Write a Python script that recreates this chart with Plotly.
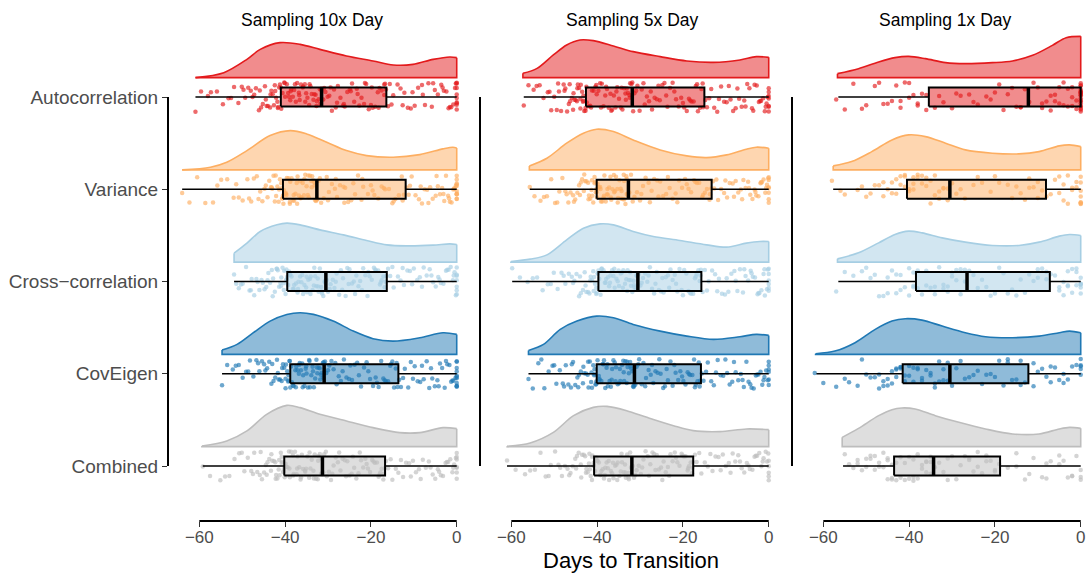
import plotly.graph_objects as go

PANELS = ["Sampling 10x Day", "Sampling 5x Day", "Sampling 1x Day"]
CATEGORIES = ["Autocorrelation", "Variance", "Cross\u2212correlation", "CovEigen", "Combined"]
X_TICKS = [-60, -40, -20, 0]
COLORS = ["#E31A1C", "#FDAE61", "#A6CEE3", "#1F78B4", "#BDBDBD"]

# box-plot summaries: one row per panel, one value per category
WHISKER_LO = [[-60.9, -64.0, -51.9, -54.7, -59.2],
              [-57.1, -55.7, -59.8, -56.0, -61.0],
              [-56.5, -57.7, -56.5, -61.6, -55.4]]
Q1 = [[-41.0, -40.5, -39.5, -38.8, -40.2],
      [-42.6, -40.1, -39.7, -40.1, -40.7],
      [-35.4, -40.5, -38.4, -41.5, -43.5]]
MEDIAN = [[-31.5, -32.6, -30.5, -30.9, -31.3],
          [-31.8, -32.7, -30.5, -31.3, -31.9],
          [-12.2, -30.5, -26.5, -30.5, -34.3]]
Q3 = [[-16.4, -11.9, -16.3, -13.6, -16.7],
      [-15.0, -13.3, -15.7, -15.8, -17.6],
      [0.0, -8.1, -7.2, -12.2, -18.8]]
WHISKER_HI = [[0, 0, 0, 0, 0],
              [0, 0, 0, 0, 0],
              [0, 0, 0, 0, 0]]

# half-violin density profiles (knots: day, density height)
DENS_X_10X = [
    [-60.9, -54.3, -48.9, -45.8, -41.2, -36.5, -31.9, -25.7, -19.5, -14.8, -10.2, -5.5, -1.6, 0],
    [-64.0, -57.4, -53.6, -48.9, -43.5, -38.8, -35.0, -30.3, -25.7, -21.0, -14.8, -8.6, -3.2, -0.9, 0],
    [-51.9, -48.9, -45.8, -41.9, -39.6, -36.5, -31.9, -26.4, -21.0, -16.3, -11.7, -5.5, -1.6, 0],
    [-54.7, -51.2, -47.4, -43.5, -39.6, -36.5, -33.4, -28.8, -24.1, -19.5, -14.8, -8.6, -3.2, 0],
    [-59.4, -53.6, -48.9, -44.3, -39.6, -36.5, -31.9, -25.7, -19.5, -13.3, -8.6, -3.2, 0],
]
DENS_Y_10X = [
    [0, 5, 18.3, 28.3, 35, 33.3, 28.3, 21.7, 16.7, 12.7, 13.3, 18.3, 20.7, 20],
    [0, 2.7, 7.7, 19.3, 34.3, 39.3, 36, 27.7, 19.3, 14.3, 12.7, 15.3, 21, 22.7, 22],
    [9, 19, 30.7, 37.3, 39, 37.3, 32.3, 27.3, 21.7, 17.3, 16.3, 17, 18.3, 17.7],
    [4.3, 10, 21.7, 33.3, 40, 41.7, 40, 33.3, 23.3, 15.7, 13.3, 16.7, 21.7, 20],
    [0.7, 5.7, 15.7, 32.3, 41.3, 39, 32.3, 25.7, 19, 14, 14, 19, 18],
]
DENS_X_5X = [
    [-57.3, -54.0, -50.2, -47.1, -44.0, -40.9, -36.2, -31.6, -25.3, -19.1, -12.9, -6.7, -2.9, 0],
    [-55.8, -51.7, -47.1, -43.2, -40.1, -36.2, -31.6, -25.3, -19.1, -14.5, -9.8, -5.2, -2.9, 0],
    [-60.1, -55.6, -51.7, -47.1, -43.2, -39.3, -36.2, -31.6, -26.9, -20.7, -14.5, -9.8, -5.2, -2.1, 0],
    [-56.0, -52.5, -48.6, -44.7, -40.1, -36.2, -31.6, -25.3, -19.1, -12.9, -6.7, -2.9, 0],
    [-61.0, -55.6, -50.2, -45.5, -40.9, -37.7, -33.1, -28.4, -22.2, -17.6, -11.4, -5.2, 0],
]
DENS_Y_5X = [
    [4.3, 9.3, 22.7, 32.7, 37.7, 37, 31.7, 26, 21, 16.7, 15.3, 17.7, 21, 20.3],
    [4, 11.7, 26.7, 36.7, 40.7, 38.3, 30, 20, 14, 12.3, 15, 20.7, 22.7, 21.7],
    [0.7, 3, 7.3, 22.3, 34, 38.3, 37.3, 30.7, 25.7, 21.7, 17.3, 15, 19, 20.7, 20.7],
    [4, 10, 25, 33.3, 38.3, 36.7, 30, 23.3, 18.3, 15, 17.7, 20, 19],
    [0.3, 3.7, 14.3, 31, 39.3, 40.3, 36, 29.3, 21, 16, 15, 17.7, 17],
]
DENS_X_1X = [
    [-56.7, -51.8, -47.1, -43.3, -40.1, -36.2, -31.5, -26.9, -20.6, -15.9, -11.2, -6.6, -3.4, 0],
    [-57.7, -53.4, -48.7, -44.0, -40.1, -36.2, -31.5, -26.9, -20.6, -14.4, -9.7, -5.0, -2.6, 0],
    [-56.7, -51.8, -47.1, -43.3, -40.1, -37.0, -32.3, -26.9, -20.6, -14.4, -9.7, -5.0, -2.6, 0],
    [-61.8, -57.3, -52.6, -47.9, -44.0, -40.9, -37.0, -32.3, -26.9, -22.2, -15.9, -9.7, -5.0, -2.6, 0],
    [-55.6, -51.8, -47.1, -44.0, -41.7, -38.6, -33.9, -28.4, -22.2, -15.9, -9.7, -5.0, -2.6, 0],
]
DENS_Y_1X = [
    [4, 9, 15.7, 20, 21.3, 19, 15, 14, 15, 16.7, 22.3, 32.3, 40, 41.3],
    [4, 8.3, 18.3, 30, 35, 33.3, 26.7, 20, 16.7, 16, 18.3, 24, 25, 23.3],
    [3.3, 9.3, 19.3, 27.7, 31, 29.3, 24.3, 20, 16.7, 16.7, 20, 26, 27.7, 26.7],
    [0.7, 3.3, 11.7, 25, 33.3, 35.7, 34.3, 28.3, 21.7, 17.7, 16.7, 18.3, 21.7, 23.3, 21.7],
    [9.3, 18.3, 31, 37, 38.7, 37.7, 31, 24.3, 17.7, 12.7, 12.7, 17.7, 19.3, 18.3],
]

# individual observations (days to transition)
PTS_10X = [
    [-60.9, -58.0, -55.9, -53.2, -51.9, -50.1, -49.3, -48.0, -47.2, -46.1, -45.6, -44.7, -44.3, -43.5, -43.2, -42.4, -42.3, -41.7, -41.6, -41.0,
     -40.9, -40.2, -40.0, -39.3, -38.8, -38.6, -37.9, -37.5, -36.7, -36.6, -35.8, -35.4, -35.1, -34.3, -34.1, -33.4, -32.9, -32.6, -31.9, -31.6,
     -31.1, -30.6, -29.7, -29.1, -28.2, -27.7, -26.5, -26.1, -24.9, -24.4, -23.3, -22.7, -21.6, -21.1, -20.0, -19.6, -18.4, -18.0, -16.9, -16.7,
     -15.6, -14.8, -13.1, -12.2, -10.7, -9.8, -8.1, -7.4, -5.8, -5.1, -3.6, -3.0, -1.9, -1.3, -0.4, 0, 0, 0, 0, 0,
     -59.6, -57.3, -54.5, -52.6, -50.9, -49.7, -48.6, -47.6, -46.8, -45.9, -45.2, -44.5, -44.0, -43.4, -42.9, -42.6, -42.1, -41.8, -41.4, -41.2,
     -40.6, -40.1, -39.6, -39.1, -38.7, -38.2, -37.7, -37.2, -36.8, -36.3, -35.9, -35.3, -34.8, -34.4, -33.8, -33.2, -32.7, -32.2, -31.8, -31.5,
     -30.9, -30.1, -29.4, -28.6, -27.9, -27.1, -26.3, -25.5, -24.7, -23.9, -23.1, -22.2, -21.4, -20.5, -19.8, -19.0, -18.2, -17.5, -16.9, -16.5,
     -16.0, -15.2, -13.8, -12.6, -11.4, -10.3, -9.0, -7.9, -6.6, -5.5, -4.4, -3.3, -2.4, -1.6, -0.8, -0.2, 0, 0, 0, 0],
    [-64.0, -60.5, -56.8, -54.9, -52.0, -50.8, -48.8, -47.9, -46.6, -45.8, -44.8, -44.1, -43.3, -43.0, -42.4, -42.1, -41.5, -41.4, -40.8, -40.6,
     -40.3, -39.8, -39.6, -38.9, -38.8, -38.2, -37.9, -37.3, -37.1, -36.5, -36.2, -35.6, -35.3, -34.7, -34.5, -33.9, -33.7, -33.2, -33.0, -32.6,
     -32.2, -31.6, -30.3, -29.8, -28.4, -27.9, -26.4, -26.0, -24.6, -23.7, -22.2, -21.8, -20.0, -19.2, -17.5, -16.7, -15.0, -14.3, -12.8, -12.3,
     -11.2, -10.5, -8.8, -8.1, -6.9, -6.2, -4.9, -4.4, -3.4, -2.9, -2.0, -1.6, -0.8, -0.5, 0, 0, 0, 0, 0, 0,
     -62.3, -58.6, -55.8, -53.5, -51.4, -49.9, -48.4, -47.3, -46.2, -45.3, -44.5, -43.7, -43.1, -42.7, -42.2, -41.8, -41.2, -40.9, -40.7, -40.5,
     -40.4, -40.0, -39.7, -39.2, -38.9, -38.5, -38.0, -37.6, -37.2, -36.8, -36.4, -35.9, -35.5, -35.0, -34.6, -34.2, -33.8, -33.4, -33.1, -32.8,
     -32.4, -31.9, -31.0, -30.0, -29.1, -28.2, -27.2, -26.2, -25.3, -24.1, -23.0, -22.0, -20.7, -19.6, -18.3, -17.0, -15.8, -14.7, -13.5, -12.6,
     -11.7, -10.9, -9.6, -8.4, -7.5, -6.6, -5.6, -4.7, -3.9, -3.1, -2.5, -1.8, -1.2, -0.6, -0.2, 0, 0, 0, 0, 0],
    [-51.9, -50.8, -49.9, -48.3, -47.8, -46.7, -46.0, -45.2, -44.4, -43.9, -43.1, -42.8, -42.0, -41.7, -41.1, -40.9, -40.3, -40.2, -39.7, -39.6,
     -39.1, -38.8, -38.2, -37.9, -37.1, -36.9, -36.2, -35.8, -35.1, -34.9, -34.2, -34.0, -33.3, -33.0, -32.4, -32.2, -31.6, -31.4, -30.8, -30.6,
     -30.0, -29.4, -28.5, -28.0, -27.0, -26.5, -25.5, -25.0, -24.0, -23.4, -22.5, -21.8, -20.8, -20.3, -19.3, -18.8, -17.9, -17.5, -16.8, -16.4,
     -15.5, -14.7, -13.1, -12.3, -10.9, -10.0, -8.6, -7.7, -6.3, -5.5, -4.3, -3.7, -2.5, -1.9, -0.9, -0.5, 0, 0, 0, 0,
     -51.4, -50.3, -49.1, -48.0, -47.2, -46.4, -45.5, -44.8, -44.1, -43.5, -42.9, -42.4, -41.9, -41.4, -41.0, -40.6, -40.3, -39.9, -39.7, -39.5,
     -39.3, -38.9, -38.5, -38.0, -37.5, -37.0, -36.5, -36.0, -35.5, -35.0, -34.6, -34.1, -33.6, -33.2, -32.7, -32.3, -31.9, -31.5, -31.1, -30.7,
     -30.3, -29.6, -28.9, -28.2, -27.4, -26.7, -25.9, -25.2, -24.4, -23.7, -22.9, -22.1, -21.3, -20.6, -19.8, -19.0, -18.3, -17.7, -17.1, -16.6,
     -16.0, -15.0, -13.7, -12.6, -11.5, -10.4, -9.2, -8.1, -7.0, -5.9, -4.9, -4.0, -3.1, -2.2, -1.4, -0.7, -0.2, 0, 0, 0],
    [-54.7, -52.2, -50.8, -49.1, -48.2, -46.7, -46.0, -44.9, -44.2, -43.2, -42.7, -41.9, -41.5, -40.8, -40.5, -39.9, -39.8, -39.3, -39.2, -38.9,
     -38.4, -38.2, -37.6, -37.4, -36.8, -36.6, -36.0, -35.8, -35.2, -35.0, -34.4, -34.2, -33.6, -33.3, -32.7, -32.5, -31.9, -31.7, -31.2, -31.0,
     -30.4, -29.7, -28.7, -28.0, -27.0, -26.3, -25.1, -24.4, -23.2, -22.3, -21.0, -20.2, -18.9, -18.2, -17.1, -16.5, -15.5, -15.0, -14.2, -13.8,
     -13.0, -12.1, -10.7, -9.8, -8.5, -7.7, -6.4, -5.7, -4.5, -3.9, -2.8, -2.2, -1.3, -0.8, 0, 0, 0, 0, 0, 0,
     -53.5, -51.5, -49.9, -48.6, -47.4, -46.3, -45.4, -44.6, -43.7, -43.0, -42.3, -41.7, -41.2, -40.7, -40.2, -39.9, -39.5, -39.2, -39.0, -38.8,
     -38.6, -38.0, -37.5, -37.1, -36.7, -36.3, -35.9, -35.5, -35.1, -34.7, -34.3, -33.9, -33.5, -33.0, -32.6, -32.2, -31.8, -31.5, -31.2, -30.9,
     -30.7, -30.0, -29.2, -28.3, -27.5, -26.6, -25.7, -24.8, -23.8, -22.8, -21.6, -20.6, -19.5, -18.6, -17.6, -16.8, -16.0, -15.3, -14.6, -14.0,
     -13.4, -12.5, -11.3, -10.2, -9.1, -8.1, -7.0, -6.0, -5.1, -4.2, -3.4, -2.5, -1.7, -1.0, -0.3, 0, 0, 0, 0, 0],
    [-59.2, -55.1, -53.0, -50.7, -49.5, -47.9, -47.2, -45.9, -45.4, -44.5, -44.1, -43.3, -43.0, -42.3, -42.1, -41.5, -41.3, -40.8, -40.7, -40.3,
     -39.9, -39.7, -39.1, -38.9, -38.2, -38.0, -37.3, -37.1, -36.4, -36.1, -35.4, -35.1, -34.4, -34.1, -33.4, -33.1, -32.4, -32.2, -31.6, -31.4,
     -30.9, -30.3, -29.3, -28.7, -27.7, -27.1, -26.1, -25.5, -24.5, -23.9, -22.9, -22.3, -21.3, -20.7, -19.7, -19.1, -18.2, -17.8, -17.1, -16.8,
     -16.0, -15.0, -13.6, -12.5, -11.1, -10.2, -8.8, -7.9, -6.5, -5.6, -4.4, -3.7, -2.6, -2.0, -1.0, -0.6, 0, 0, 0, 0,
     -57.5, -54.0, -51.8, -50.1, -48.7, -47.5, -46.5, -45.7, -44.9, -44.3, -43.7, -43.2, -42.6, -42.2, -41.8, -41.4, -41.0, -40.8, -40.5, -40.3,
     -40.1, -39.4, -39.0, -38.6, -38.1, -37.7, -37.2, -36.7, -36.3, -35.8, -35.3, -34.8, -34.3, -33.8, -33.3, -32.8, -32.3, -31.9, -31.5, -31.3,
     -31.1, -30.5, -29.8, -29.0, -28.2, -27.4, -26.6, -25.8, -25.0, -24.2, -23.4, -22.6, -21.8, -21.0, -20.2, -19.4, -18.6, -18.0, -17.5, -17.0,
     -16.5, -15.4, -14.2, -13.0, -11.8, -10.7, -9.5, -8.4, -7.2, -6.1, -5.0, -4.1, -3.2, -2.3, -1.5, -0.8, -0.2, 0, 0, 0],
]
PTS_5X = [
    [-57.1, -54.8, -53.4, -51.5, -50.7, -49.4, -48.9, -47.8, -47.4, -46.6, -46.3, -45.6, -45.3, -44.7, -44.5, -43.9, -43.8, -43.3, -43.2, -42.7,
     -42.4, -41.6, -41.2, -40.4, -40.1, -39.3, -38.9, -38.1, -37.7, -36.9, -36.5, -35.7, -35.3, -34.5, -34.1, -33.4, -33.1, -32.5, -32.3, -31.8,
     -31.3, -30.6, -29.6, -28.9, -27.9, -27.2, -26.1, -25.4, -24.3, -23.6, -22.4, -21.6, -20.4, -19.7, -18.6, -18.0, -17.0, -16.5, -15.7, -15.3,
     -14.4, -13.4, -12.0, -11.1, -9.8, -8.9, -7.7, -6.9, -5.7, -5.0, -3.9, -3.3, -2.3, -1.8, -0.9, -0.5, 0, 0, 0, 0,
     -56.0, -54.1, -52.5, -51.1, -50.0, -49.1, -48.4, -47.6, -47.0, -46.4, -45.9, -45.5, -45.0, -44.6, -44.2, -43.9, -43.5, -43.2, -43.0, -42.7,
     -42.5, -41.9, -41.4, -40.8, -40.2, -39.7, -39.1, -38.5, -37.9, -37.3, -36.7, -36.1, -35.5, -34.9, -34.3, -33.7, -33.3, -32.8, -32.4, -32.0,
     -31.6, -30.9, -30.1, -29.2, -28.4, -27.5, -26.6, -25.7, -24.8, -23.9, -23.0, -22.0, -21.0, -20.0, -19.1, -18.3, -17.5, -16.7, -16.0, -15.4,
     -14.8, -13.9, -12.7, -11.6, -10.4, -9.3, -8.3, -7.3, -6.3, -5.4, -4.5, -3.6, -2.8, -2.0, -1.3, -0.7, -0.2, 0, 0, 0],
    [-55.7, -53.2, -51.7, -49.8, -48.8, -47.4, -46.7, -45.6, -45.1, -44.2, -43.8, -43.1, -42.8, -42.1, -41.9, -41.3, -41.1, -40.6, -40.5, -40.1,
     -39.9, -39.3, -39.1, -38.5, -38.3, -37.7, -37.5, -36.9, -36.7, -36.1, -35.9, -35.3, -35.1, -34.5, -34.3, -33.8, -33.7, -33.2, -33.1, -32.8,
     -32.1, -31.3, -30.0, -29.3, -28.0, -27.3, -26.0, -25.3, -23.9, -23.1, -21.7, -20.9, -19.5, -18.7, -17.4, -16.7, -15.5, -14.9, -13.8, -13.4,
     -12.7, -11.8, -10.4, -9.7, -8.4, -7.7, -6.5, -5.9, -4.8, -4.3, -3.3, -2.9, -1.9, -1.6, -0.8, -0.4, 0, 0, 0, 0,
     -54.6, -52.4, -50.7, -49.3, -48.1, -47.1, -46.2, -45.4, -44.6, -44.0, -43.5, -43.0, -42.5, -42.0, -41.6, -41.2, -40.9, -40.6, -40.3, -40.2,
     -40.0, -39.6, -39.2, -38.8, -38.4, -38.0, -37.6, -37.2, -36.8, -36.4, -36.0, -35.6, -35.2, -34.8, -34.4, -34.0, -33.7, -33.4, -33.1, -32.9,
     -32.5, -31.7, -30.7, -29.7, -28.7, -27.7, -26.7, -25.7, -24.6, -23.5, -22.4, -21.3, -20.2, -19.1, -18.1, -17.1, -16.2, -15.3, -14.4, -13.7,
     -13.0, -12.2, -11.1, -10.1, -9.1, -8.1, -7.1, -6.2, -5.4, -4.6, -3.8, -3.1, -2.4, -1.8, -1.2, -0.6, -0.1, 0, 0, 0],
    [-59.8, -56.2, -54.0, -51.5, -50.1, -48.3, -47.4, -45.9, -45.3, -44.2, -43.8, -42.9, -42.5, -41.8, -41.5, -40.9, -40.7, -40.2, -40.1, -39.8,
     -39.2, -38.9, -38.2, -37.9, -37.2, -36.9, -36.2, -35.9, -35.2, -34.9, -34.2, -33.9, -33.2, -32.9, -32.3, -32.1, -31.5, -31.3, -30.8, -30.6,
     -29.9, -29.3, -28.3, -27.7, -26.7, -26.1, -25.1, -24.5, -23.5, -22.9, -21.9, -21.3, -20.3, -19.7, -18.7, -18.1, -17.2, -16.8, -16.1, -15.8,
     -14.9, -14.0, -12.5, -11.6, -10.2, -9.4, -8.0, -7.3, -6.0, -5.4, -4.2, -3.7, -2.6, -2.2, -1.2, -0.9, -0.2, 0, 0, 0,
     -58.0, -55.0, -52.7, -50.8, -49.2, -47.8, -46.6, -45.6, -44.8, -44.0, -43.3, -42.7, -42.1, -41.6, -41.2, -40.8, -40.5, -40.2, -39.9, -39.7,
     -39.5, -39.0, -38.5, -38.0, -37.5, -37.0, -36.5, -36.0, -35.5, -35.0, -34.5, -34.0, -33.5, -33.0, -32.6, -32.2, -31.8, -31.4, -31.0, -30.7,
     -30.3, -29.6, -28.8, -28.0, -27.2, -26.4, -25.6, -24.8, -24.0, -23.2, -22.4, -21.6, -20.8, -20.0, -19.2, -18.4, -17.6, -17.0, -16.4, -15.9,
     -15.4, -14.4, -13.2, -12.0, -10.9, -9.8, -8.7, -7.7, -6.7, -5.7, -4.8, -4.0, -3.2, -2.4, -1.7, -1.0, -0.4, 0, 0, 0],
    [-56.0, -53.7, -52.3, -50.4, -49.5, -48.0, -47.3, -46.1, -45.6, -44.6, -44.2, -43.3, -43.0, -42.2, -42.0, -41.4, -41.2, -40.7, -40.6, -40.2,
     -39.6, -39.4, -38.7, -38.4, -37.8, -37.5, -36.8, -36.5, -35.9, -35.6, -34.9, -34.6, -33.9, -33.7, -33.1, -32.9, -32.3, -32.1, -31.6, -31.4,
     -30.8, -30.2, -29.2, -28.6, -27.5, -26.9, -25.9, -25.2, -24.2, -23.5, -22.4, -21.7, -20.6, -19.9, -18.9, -18.3, -17.4, -17.0, -16.3, -16.0,
     -15.2, -14.2, -12.8, -11.9, -10.6, -9.7, -8.5, -7.7, -6.5, -5.8, -4.7, -4.0, -3.0, -2.4, -1.5, -1.0, -0.2, 0, 0, 0,
     -55.0, -53.0, -51.3, -50.0, -48.7, -47.7, -46.7, -45.9, -45.1, -44.4, -43.8, -43.2, -42.6, -42.1, -41.7, -41.3, -40.9, -40.6, -40.4, -40.2,
     -39.9, -39.5, -39.0, -38.5, -38.1, -37.6, -37.1, -36.6, -36.2, -35.7, -35.2, -34.7, -34.2, -33.8, -33.4, -33.0, -32.6, -32.2, -31.8, -31.5,
     -31.1, -30.4, -29.6, -28.8, -28.0, -27.2, -26.4, -25.5, -24.6, -23.8, -22.9, -22.0, -21.1, -20.2, -19.4, -18.6, -17.8, -17.2, -16.6, -16.1,
     -15.6, -14.6, -13.4, -12.3, -11.2, -10.1, -9.1, -8.1, -7.1, -6.1, -5.2, -4.3, -3.5, -2.7, -1.9, -1.2, -0.6, 0, 0, 0],
    [-61.0, -56.8, -54.5, -52.0, -50.8, -49.0, -48.2, -46.9, -46.2, -45.1, -44.7, -43.8, -43.5, -42.8, -42.5, -41.9, -41.7, -41.2, -41.1, -40.8,
     -40.2, -39.9, -39.3, -39.0, -38.4, -38.1, -37.5, -37.2, -36.5, -36.2, -35.5, -35.2, -34.5, -34.2, -33.5, -33.3, -32.7, -32.6, -32.1, -32.0,
     -31.4, -30.8, -29.8, -29.2, -28.2, -27.6, -26.7, -26.1, -25.1, -24.5, -23.5, -22.9, -21.9, -21.3, -20.3, -19.8, -18.9, -18.6, -17.9, -17.7,
     -16.8, -15.7, -14.2, -13.1, -11.7, -10.7, -9.3, -8.4, -7.1, -6.3, -5.1, -4.4, -3.3, -2.7, -1.7, -1.2, -0.4, 0, 0, 0,
     -59.0, -55.6, -53.2, -51.3, -49.8, -48.6, -47.5, -46.5, -45.7, -44.9, -44.3, -43.7, -43.1, -42.6, -42.2, -41.8, -41.5, -41.2, -40.9, -40.8,
     -40.5, -40.0, -39.6, -39.1, -38.7, -38.2, -37.8, -37.3, -36.8, -36.3, -35.8, -35.3, -34.8, -34.3, -33.8, -33.4, -33.0, -32.7, -32.3, -32.0,
     -31.7, -31.1, -30.3, -29.5, -28.7, -27.9, -27.1, -26.4, -25.6, -24.8, -24.0, -23.2, -22.4, -21.6, -20.8, -20.1, -19.4, -18.8, -18.2, -17.8,
     -17.2, -16.2, -14.9, -13.6, -12.4, -11.2, -10.0, -8.9, -7.8, -6.7, -5.7, -4.7, -3.8, -3.0, -2.2, -1.4, -0.7, -0.1, 0, 0],
]
PTS_1X = [
    [-57, -53, -51, -48, -46, -45, -43, -42, -41, -40, -39, -38, -37, -36,
     -34, -32, -30, -28, -26, -24, -22, -21, -19, -18, -16, -15, -14, -13,
     -11, -10, -9, -8, -7, -6, -5, -5, -4, -3, -3, -2, -2, -1,
     0, 0, 0, 0, 0, 0, 0, 0, 0, 0, 0, 0, 0, 0,
     -55, -50, -47, -44, -42, -40, -38, -36, -33, -29, -25, -20, -17, -14,
     -12, -9, -7, -6, -4, -2, -1, 0, 0, 0, 0, 0, 0, 0],
    [-58, -55, -52, -50, -48, -47, -46, -45, -44, -43, -42, -42, -41, -41,
     -40, -39, -39, -38, -37, -36, -36, -35, -34, -33, -33, -32, -31, -31,
     -29, -27, -25, -23, -21, -19, -17, -16, -14, -13, -12, -11, -10, -9,
     -7, -6, -5, -4, -3, -3, -2, -1, -1, 0, 0, 0, 0, 0,
     -56, -51, -49, -46, -44, -43, -41, -40, -39, -38, -37, -35, -34, -32,
     -30, -28, -24, -20, -15, -12, -10, -8, -5, -4, -2, 0, 0, 0],
    [-57, -53, -51, -49, -47, -46, -45, -44, -43, -42, -41, -40, -39, -39,
     -38, -37, -36, -35, -34, -33, -32, -31, -30, -30, -29, -28, -27, -27,
     -25, -23, -21, -20, -18, -17, -15, -14, -12, -11, -10, -9, -8, -8,
     -6, -5, -5, -4, -3, -3, -2, -2, -1, -1, 0, 0, 0, 0,
     -55, -50, -48, -45, -43, -42, -40, -39, -38, -36, -34, -32, -31, -29,
     -28, -26, -24, -22, -19, -16, -13, -10, -7, -4, -3, -1, 0, 0],
    [-62, -57, -54, -51, -49, -48, -47, -46, -45, -44, -43, -43, -42, -42,
     -41, -40, -39, -38, -38, -37, -36, -35, -34, -34, -33, -32, -31, -31,
     -30, -28, -26, -25, -23, -22, -20, -19, -18, -17, -16, -15, -14, -13,
     -11, -10, -9, -8, -7, -6, -5, -4, -3, -2, -1, 0, 0, 0,
     -60, -55, -52, -50, -47, -46, -45, -44, -43, -42, -41, -40, -39, -37,
     -35, -33, -32, -29, -27, -24, -21, -17, -14, -11, -7, -4, 0, 0],
    [-55, -53, -52, -51, -50, -49, -48, -47, -47, -46, -45, -45, -44, -44,
     -43, -42, -41, -41, -40, -39, -39, -38, -37, -37, -36, -36, -35, -35,
     -34, -32, -31, -30, -28, -27, -26, -25, -24, -23, -22, -21, -20, -19,
     -17, -15, -13, -11, -9, -8, -7, -5, -4, -3, -2, -1, 0, 0,
     -54, -52, -50, -49, -48, -46, -45, -44, -43, -42, -40, -39, -38, -36,
     -35, -33, -31, -29, -26, -24, -22, -20, -15, -12, -8, -5, -2, 0],
]

DENS_X = [DENS_X_10X, DENS_X_5X, DENS_X_1X]
DENS_Y = [DENS_Y_10X, DENS_Y_5X, DENS_Y_1X]
POINTS = [PTS_10X, PTS_5X, PTS_1X]

# ---- geometry / style ----
W, H = 1088, 573
FONT = "Liberation Sans, Arial, Helvetica, sans-serif"
X_RANGE = [-67.3, 1.5]
PANEL_LEFT_PX = [168, 480, 792]
PX_PER_DAY = 4.29
PLOT_TOP_PX, PLOT_BOTTOM_PX = 33, 521
Y_RANGE = [0.404, 5.694]
VIOLIN_OFFSET = 0.21       # gap between row centre and violin baseline
DENS_SCALE = 1 / 92.25     # density height -> row units
BOX_HALF = 0.103
JITTER = 0.16


def rgba(hex_color, a):
    h = hex_color.lstrip("#")
    r, g, b = int(h[0:2], 16), int(h[2:4], 16), int(h[4:6], 16)
    return f"rgba({r},{g},{b},{a})"


def jitter_offsets(n, phase):
    # quadratic Weyl sequence: evenly spread but without visible stripes
    return [JITTER * (2 * ((0.5 * k * k * 0.6180339887 + k * 0.2247 + phase) % 1.0) - 1)
            for k in range(n)]


fig = go.Figure()

for p in range(3):
    xa = "x" if p == 0 else f"x{p + 1}"
    for c, cat in enumerate(CATEGORIES):
        yc = 5 - c
        col = COLORS[c]
        common = dict(xaxis=xa, yaxis="y", hoverinfo="skip", showlegend=False)

        # half violin: baseline outline, then smoothed density filled down to it
        dx, dh = DENS_X[p][c], DENS_Y[p][c]
        base = yc + VIOLIN_OFFSET
        top = [base + h * DENS_SCALE for h in dh]
        fig.add_trace(go.Scatter(x=[dx[0], dx[0], dx[-1], dx[-1]],
                                 y=[top[0], base, base, top[-1]],
                                 mode="lines", line=dict(color=col, width=1.6), **common))
        fig.add_trace(go.Scatter(x=dx, y=top, mode="lines",
                                 line=dict(color=col, width=1.6, shape="spline", smoothing=0.9),
                                 fill="tonexty", fillcolor=rgba(col, 0.5), **common))

        # jittered raw observations
        vals = POINTS[p][c]
        ys = [yc + o for o in jitter_offsets(len(vals), 0.37 * c + 0.21 * p)]
        fig.add_trace(go.Scatter(x=vals, y=ys, mode="markers",
                                 marker=dict(color=col, size=4.5, opacity=0.65, line=dict(width=0)),
                                 **common))

        # box plot
        lo, q1, md, q3, hi = WHISKER_LO[p][c], Q1[p][c], MEDIAN[p][c], Q3[p][c], WHISKER_HI[p][c]
        fig.add_trace(go.Scatter(x=[lo, q1, None, q3, hi], y=[yc, yc, None, yc, yc],
                                 mode="lines", line=dict(color="black", width=1.5), **common))
        fig.add_trace(go.Scatter(x=[q1, q3, q3, q1, q1],
                                 y=[yc - BOX_HALF, yc - BOX_HALF, yc + BOX_HALF, yc + BOX_HALF, yc - BOX_HALF],
                                 mode="lines", fill="toself", fillcolor=rgba(col, 0.5),
                                 line=dict(color="black", width=2), **common))
        fig.add_trace(go.Scatter(x=[md, md], y=[yc - BOX_HALF, yc + BOX_HALF], mode="lines",
                                 line=dict(color="black", width=3.5), **common))

tick_font = dict(family=FONT, size=17, color="#4D4D4D")
panel_width_px = (X_RANGE[1] - X_RANGE[0]) * PX_PER_DAY
layout = dict(
    width=W, height=H, margin=dict(l=0, r=0, t=0, b=0),
    paper_bgcolor="white", plot_bgcolor="white",
    font=dict(family=FONT),
    yaxis=dict(domain=[(H - PLOT_BOTTOM_PX) / H, (H - PLOT_TOP_PX) / H], range=Y_RANGE,
               tickvals=[5, 4, 3, 2, 1], ticktext=CATEGORIES, ticks="outside", ticklen=5,
               tickwidth=1.3, tickcolor="#333333", tickfont=dict(family=FONT, size=19, color="#4D4D4D"),
               showgrid=False, zeroline=False, showline=False, anchor="x"),
)
shapes = []
for p in range(3):
    key = "xaxis" if p == 0 else f"xaxis{p + 1}"
    ref = "x" if p == 0 else f"x{p + 1}"
    left = PANEL_LEFT_PX[p]
    layout[key] = dict(domain=[left / W, (left + panel_width_px) / W], range=X_RANGE,
                       tickvals=X_TICKS, ticks="outside", ticklen=5, tickwidth=1.3,
                       tickcolor="#333333", tickfont=tick_font, ticklabelstandoff=-4,
                       showgrid=False, zeroline=False, showline=False, anchor="y")
    # capped axis lines
    shapes.append(dict(type="line", xref=f"{ref} domain", yref="y", x0=0, x1=0, y0=1, y1=5,
                       line=dict(color="black", width=2)))
    shapes.append(dict(type="line", xref=ref, yref="y domain", x0=X_TICKS[0], x1=X_TICKS[-1],
                       y0=0, y1=0, line=dict(color="black", width=2)))

annotations = []
strip_x_px = [312, 632, 945]
for p, title in enumerate(PANELS):
    annotations.append(dict(text=title, x=strip_x_px[p] / W, y=1 - 20 / H, xref="paper", yref="paper",
                            showarrow=False, xanchor="center", yanchor="middle",
                            font=dict(family=FONT, size=17.5, color="black")))
annotations.append(dict(text="Days to Transition", x=631 / W, y=1 - 560 / H, xref="paper", yref="paper",
                        showarrow=False, xanchor="center", yanchor="middle",
                        font=dict(family=FONT, size=22, color="black")))
layout["shapes"] = shapes
layout["annotations"] = annotations
fig.update_layout(**layout)

fig.write_html("out.html")
